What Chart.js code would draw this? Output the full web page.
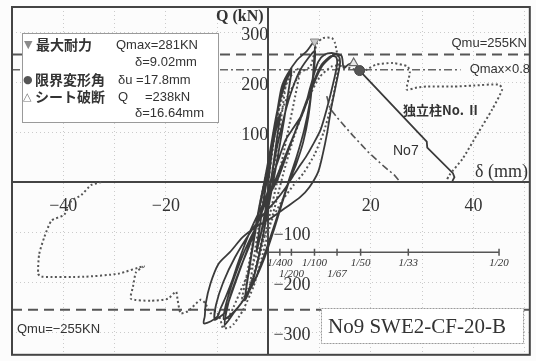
<!DOCTYPE html>
<html>
<head>
<meta charset="utf-8">
<script src="https://cdn.jsdelivr.net/npm/chart.js@4.4.0/dist/chart.umd.min.js"></script>
<style>
  html, body { margin: 0; padding: 0; background: #fcfcfc; }
  #wrap { width: 536px; height: 361px; }
</style>
</head>
<body>
<div id="wrap"><canvas id="c" width="536" height="361"></canvas></div>
<script>
// ---- axis settings ----
const xRange = [-50, 51];           // δ (mm)
const yRange = [-345, 350];         // Q (kN)
const xGridVals = [-50, -40, -30, -20, -10, 0, 10, 20, 30, 40, 50];
const xTickLabels = [-40, -20, 20, 40];
const yGridVals = [-300, -200, -100, 0, 100, 200, 300];
const yTickLabelsPos = [100, 200, 300];
const yTickLabelsNeg = [-100, -200, -300];

// ---- reference levels (kN) ----
const qmu = 255;
const qmaxLevel = 224.8;   // Qmax × 0.8

// ---- key points ----
const peakPoint = [9.02, 281];      // ▼ 最大耐力
const sheetBreak = [16.64, 238];    // △ シート破断
const limitPoint = [17.8, 223];     // ● 限界変形角

// ---- drift-angle scale (column height 900 mm) ----
const driftLabels = ['1/400', '1/200', '1/100', '1/67', '1/50', '1/33', '1/20'];
const driftMm = [2.25, 4.5, 9, 13.4, 18, 27.3, 45];
const driftRow = [0, 1, 0, 1, 0, 0, 0];
const driftLevel = -140;

// ---- No9 hysteresis (δ mm, Q kN) ----
const no9Loops = [
  [0,0],[0.7,60],[1.5,105],[2.25,128],[1.7,90],[0.9,30],[0.2,-20],[-0.8,-75],[-1.6,-110],[-2.25,-132],[-1.6,-85],[-0.8,-25],[0,25],
  [0.9,80],[1.6,115],[2.3,135],[1.5,75],[0.6,10],[-0.3,-40],[-1.3,-95],[-2.3,-138],[-1.4,-70],[-0.5,-10],
  [0.3,40],[1.1,100],[2.2,160],[3.4,200],[4.5,222],[3.9,180],[3,120],[1.9,55],[0.9,0],[-0.2,-60],[-1.3,-120],[-2.6,-180],[-3.6,-210],[-4.5,-230],[-3.8,-175],[-2.8,-110],[-1.8,-50],[-0.8,0],
  [0.3,60],[1.4,125],[2.7,185],[4.5,228],[3.6,160],[2.5,90],[1.4,25],[0.4,-30],[-0.9,-100],[-2.3,-170],[-3.6,-215],[-4.6,-236],[-3.5,-160],[-2.3,-85],[-1.1,-20],
  [0,30],[0.9,95],[1.7,140],[2.6,190],[3.7,215],[5.6,244],[7.5,262],[9.02,281],[8.9,240],[8.5,190],[7.8,130],[6.8,80],[5.4,35],[4,0],[2.6,-45],[1.1,-95],[-0.7,-150],[-2.8,-200],[-5,-238],[-7,-262],[-8.7,-274],[-8.4,-250],[-7.6,-220],[-6.8,-195],[-4.9,-144],[-3.4,-110],[-2.2,-85],[-0.9,-45],[0.4,0],
  [1.5,60],[2.8,120],[4.3,175],[6,220],[7.8,248],[9.1,262],[8.8,215],[8.1,160],[7,105],[5.5,50],[4.2,10],[2.8,-35],[1.2,-85],[-0.6,-140],[-2.6,-195],[-4.8,-235],[-6.8,-262],[-8.5,-285],[-8.1,-255],[-7.2,-220],[-5.6,-175],[-3.8,-130],[-2.2,-85],[-0.8,-40],[0.5,0],
  [1.8,40],[3.4,85],[5,110],[6.8,140],[8.2,190],[9.7,240],[11,255],[12.6,258],[13.6,254],[14,240],[13.6,215],[13,185],[12.3,150],[11.5,100],[10.6,55],[9.7,20],[8,-10],[6.2,-30],[3.5,-50],[0.8,-70],[-2.5,-90],[-5,-110],[-7.5,-140],[-9.7,-163],[-11.3,-203],[-12.2,-242],[-12.4,-268],[-12.6,-282],[-11.2,-278],[-9.9,-268],[-9.3,-252],[-8.3,-229],[-7,-195],[-6,-164],[-4.8,-130],[-3.5,-97],[-2.2,-68],[-1,-45],[0.5,-20],[2,10],
  [3.6,55],[5.2,100],[7,150],[8.8,200],[10.4,235],[12.2,252],[13.2,250],[13.4,235],[12.6,195],[11.5,150],[10.2,105],[8.7,75],[7.3,50],[6.2,34],[4.8,12],[3.3,-12],[1.2,-40],[-1,-65],[-3.5,-100],[-6.5,-150],[-8.8,-200],[-10.2,-245],[-10.5,-275],[-9.6,-270],[-8.6,-262],[-7.6,-235],[-6.4,-200],[-5,-160],[-3.5,-118],[-2,-80],[-0.5,-40],[1,-5],
  [3,45],[5,95],[7,145],[9,200],[10.5,232],[12,248],[13.2,256],[14.3,252],[14.7,228],[15.6,235],[16.64,238],[17.2,232],[17.8,223]
];
// No9 post-peak descent
const no9Descent = [[17.8,223],[30.9,81],[31,69],[36,18],[36.3,10],[35.9,2]];

// ---- 独立柱No.Ⅱ (dotted) ----
const colIIPath = [
  [0,0],[0.9,70],[1.8,130],[2.6,175],[3.5,205],[2.8,150],[1.9,85],[1,20],[0,-40],[-1,-100],[-2,-150],[-3,-190],[-3.6,-210],[-2.8,-150],[-1.9,-90],[-1,-30],[-0.2,20],
  [1,90],[2.2,150],[3.7,200],[5,220],[6.2,228],[5.2,170],[4,110],[2.8,50],[1.7,0],[0.4,-60],[-1,-120],[-2.5,-175],[-4,-215],[-5.2,-238],[-4.1,-180],[-3,-120],[-1.9,-60],[-0.8,0],
  [0.3,50],[1.8,120],[3.7,170],[5.5,205],[6.2,219],[8.2,231],[9.5,278],[10.7,288],[12.4,288],[13,278],[13.4,258],[13.7,240],[13.2,200],[12.2,150],[10.8,100],[9,55],[7,20],[5,-5],[2.5,-40],[0,-90],[-2.5,-150],[-4.9,-205],[-6.8,-250],[-8.2,-280],[-8.7,-292],[-7.5,-290],[-6.8,-284],[-5.8,-270],[-4.9,-255],[-2.9,-209],[-1.5,-160],[0,-100],[1.5,-40],[3,20],[5,90],[7.5,160],[10,210],[12.5,232],[14.5,232],[16.5,226],[18.4,221],[19.2,225],[21,235],[24.3,238],[27.2,231],[27.6,219],[27,185],[29,189],[30.9,191],[36,191],[40,193],[45,195],[45.6,185],[43.7,146],[41,100],[37.9,47],[35.3,14],[34.7,2],
  null,
  [-32.6,0],[-34.6,-6],[-36.5,-26],[-38.4,-37],[-39.8,-65],[-42.3,-77],[-43.7,-110],[-44.7,-144],[-44.9,-183],[-44.3,-189],[-35.9,-189],[-29.3,-183],[-24.3,-168],[-25.8,-180],[-26.4,-209],[-26.8,-233],[-22.9,-237],[-19.6,-233],[-18,-219],[-17.7,-235],[-17.1,-262],[-15.7,-258],[-13.2,-235],[-12.3,-242],[-11.3,-262],[-10.2,-258],[-9.5,-270],[-8.9,-292]
];

// ---- No7 (dash-dot) ----
const no7Path = [[11.4,172],[12,148],[13.5,128],[16.5,93],[19.5,60],[22.5,32],[24.6,14],[25.6,2]];

const toXY = arr => arr.map(p => p === null ? {x: null, y: null} : {x: p[0], y: p[1]});
const fmt = v => (v < 0 ? '\u2212' : '') + Math.abs(v);

// layout of the plotting frame
const pad = { left: 12, top: 7, right: 6, bottom: 2 };
const canvasW = 536;
const plotW = canvasW - pad.left - pad.right;
const yAxisPx = pad.left + (0 - xRange[0]) / (xRange[1] - xRange[0]) * plotW;

const tickFont = {family: '"Liberation Serif", serif', size: 18};
const ink = '#3a3a3a';

const decor = {
  id: 'decor',
  beforeDraw(chart) {
    const c = chart.ctx;
    c.save();
    c.fillStyle = '#fcfcfc';
    c.fillRect(0, 0, chart.width, chart.height);
    c.restore();
  },
  afterDatasetsDraw(chart) {
    const c = chart.ctx;
    const xs = chart.scales.x, ys = chart.scales.y;
    c.save();
    c.fillStyle = '#333';
    c.textBaseline = 'middle';

    // drift-angle labels
    c.font = 'italic 11px "Liberation Serif", serif';
    c.textAlign = 'center';
    const yLine = ys.getPixelForValue(driftLevel);
    driftLabels.forEach((t, i) => {
      c.fillText(t, xs.getPixelForValue(driftMm[i]), yLine + (driftRow[i] ? 22 : 11));
    });

    // axis titles
    c.textAlign = 'left';
    c.font = 'bold 16px "Liberation Serif", serif';
    c.fillText('Q (kN)', 216, 17);
    c.font = '18px "Liberation Serif", serif';
    c.fillText('δ (mm)', 475, 172);

    // level labels
    c.font = '13px "Liberation Sans", sans-serif';
    c.textAlign = 'right';
    c.fillText('Qmu=255KN', 527, 43);
    c.fillText('Qmax\u00d70.8', 530, 69);
    c.textAlign = 'left';
    c.fillText('Qmu=\u2212255KN', 17, 329);

    // curve names
    c.font = 'bold 13px "Noto Sans CJK JP", sans-serif';
    c.fillText('独立柱No. Ⅱ', 403, 110);
    c.font = '14px "Liberation Sans", sans-serif';
    c.fillText('No7', 393, 151);

    // info box
    c.fillStyle = '#ffffff';
    c.fillRect(22, 33, 196, 89);
    c.strokeStyle = '#9a9a9a';
    c.lineWidth = 1;
    c.strokeRect(22.5, 33.5, 196, 89);
    c.font = '11px "DejaVu Sans", sans-serif';
    c.fillStyle = '#8a8a8a';
    c.fillText('▼', 24, 45);
    c.fillStyle = '#555';
    c.fillText('●', 23, 80);
    c.fillStyle = '#777';
    c.fillText('△', 23, 97);
    c.fillStyle = '#333';
    c.font = 'bold 14px "Noto Sans CJK JP", sans-serif';
    c.fillText('最大耐力', 36, 45);
    c.fillText('限界変形角', 35, 80);
    c.fillText('シート破断', 35, 97);
    c.font = '13px "Liberation Sans", sans-serif';
    c.fillText('Qmax=281KN', 116, 45);
    c.fillText('δ=9.02mm', 135, 62);
    c.fillText('δu =17.8mm', 118, 80);
    c.fillText('Q', 118, 97);
    c.fillText('=238kN', 145, 97);
    c.fillText('δ=16.64mm', 135, 113);

    // specimen box
    c.fillStyle = '#ffffff';
    c.fillRect(321, 308, 202, 35);
    c.setLineDash([2, 1]);
    c.strokeStyle = '#9a9a9a';
    c.strokeRect(321.5, 308.5, 202, 35);
    c.setLineDash([]);
    c.fillStyle = '#333';
    c.font = '21px "Liberation Serif", serif';
    c.fillText('No9 SWE2-CF-20-B', 328, 327);
    c.restore();
  },
  afterDraw(chart) {
    const a = chart.chartArea, c = chart.ctx;
    c.save();
    c.strokeStyle = '#444';
    c.lineWidth = 2;
    c.strokeRect(a.left, a.top, a.right - a.left, a.bottom - a.top);
    c.restore();
  }
};

const zeroPad = s => { s.paddingLeft = 0; s.paddingRight = 0; s.paddingTop = 0; s.paddingBottom = 0; };

new Chart(document.getElementById('c'), {
  type: 'scatter',
  data: {
    datasets: [
      { label: 'peak', data: toXY([peakPoint]), pointStyle: 'triangle', rotation: 180, pointRadius: 5,
        backgroundColor: '#c8c8c8', borderColor: '#888', borderWidth: 1, order: 0 },
      { label: 'sheet', data: toXY([sheetBreak]), pointStyle: 'triangle', pointRadius: 5,
        backgroundColor: '#e8e8e8', borderColor: '#666', borderWidth: 1.2, order: 0 },
      { label: 'limit', data: toXY([limitPoint]), pointStyle: 'circle', pointRadius: 5,
        backgroundColor: '#555', borderColor: '#444', borderWidth: 1, order: 0 },
      { label: 'No9', data: toXY(no9Loops), showLine: true, pointRadius: 0, borderColor: ink,
        borderWidth: 1.8, tension: 0.25, order: 2 },
      { label: 'No9 descent', data: toXY(no9Descent), showLine: true, pointRadius: 0, borderColor: ink,
        borderWidth: 1.8, tension: 0, order: 2 },
      { label: '独立柱No.Ⅱ', data: toXY(colIIPath), showLine: true, spanGaps: false, pointRadius: 0,
        borderColor: '#555', borderWidth: 2, borderDash: [2, 2.5], tension: 0.2, order: 3 },
      { label: 'No7', data: toXY(no7Path), showLine: true, pointRadius: 0, borderColor: '#555',
        borderWidth: 1.6, borderDash: [7, 3, 2, 3], tension: 0, order: 3 },
      { label: 'Qmu+', data: toXY([[xRange[0], qmu], [xRange[1], qmu]]), showLine: true, pointRadius: 0,
        borderColor: '#555', borderWidth: 2, borderDash: [10, 6], order: 5 },
      { label: 'Qmu-', data: toXY([[xRange[0], -qmu], [xRange[1], -qmu]]), showLine: true, pointRadius: 0,
        borderColor: '#555', borderWidth: 2, borderDash: [10, 6], order: 5 },
      { label: 'Qmax×0.8', data: toXY([[xRange[0], qmaxLevel], [37.5, qmaxLevel]]), showLine: true, pointRadius: 0,
        borderColor: '#666', borderWidth: 1.5, borderDash: [8, 3, 2, 3], order: 5 },
      { label: 'drift', data: toXY([[0, driftLevel], [driftMm[driftMm.length - 1], driftLevel]]), showLine: true,
        pointRadius: 0, borderColor: '#555', borderWidth: 1.5, order: 4 },
      { label: 'drift ticks', data: toXY(driftMm.map(d => [d, driftLevel])), pointStyle: 'line', rotation: 90,
        pointRadius: 3.5, borderColor: '#555', borderWidth: 1.5, order: 4 }
    ]
  },
  options: {
    responsive: false,
    animation: false,
    layout: { padding: pad },
    plugins: { legend: { display: false }, tooltip: { enabled: false } },
    scales: {
      x: {
        type: 'linear', min: xRange[0], max: xRange[1], position: { y: 0 },
        afterBuildTicks: s => { s.ticks = xGridVals.map(v => ({ value: v })); },
        afterFit: zeroPad,
        grid: { color: 'rgba(90,90,90,0.3)', lineWidth: 1, drawTicks: false },
        border: { display: true, color: '#444', width: 2, dash: [1, 3] },
        ticks: { padding: 13, font: tickFont, color: '#333', maxRotation: 0, autoSkip: false,
                 callback: v => xTickLabels.includes(v) ? fmt(v) : '' }
      },
      y: {
        type: 'linear', min: yRange[0], max: yRange[1], position: { x: 0 },
        afterBuildTicks: s => { s.ticks = yGridVals.map(v => ({ value: v })); },
        afterFit: zeroPad,
        grid: { color: 'rgba(90,90,90,0.3)', lineWidth: 1, drawTicks: false },
        border: { display: true, color: '#444', width: 2, dash: [1, 3] },
        ticks: { padding: 6, labelOffset: 3, font: tickFont, color: '#333', autoSkip: false,
                 callback: v => yTickLabelsPos.includes(v) ? fmt(v) : '' }
      },
      // labels of the negative half sit on the right-hand side of the Q axis
      yNeg: {
        type: 'linear', min: yRange[0], max: yRange[1], position: 'left',
        afterBuildTicks: s => { s.ticks = yGridVals.map(v => ({ value: v })); },
        afterFit: s => { zeroPad(s); s.width = 0; },
        grid: { display: false, drawTicks: false },
        border: { display: false },
        ticks: { mirror: true, padding: yAxisPx - pad.left + 5, labelOffset: 3, font: tickFont, color: '#333', autoSkip: false,
                 callback: v => yTickLabelsNeg.includes(v) ? fmt(v) : '' }
      }
    }
  },
  plugins: [decor]
});
</script>
</body>
</html>
